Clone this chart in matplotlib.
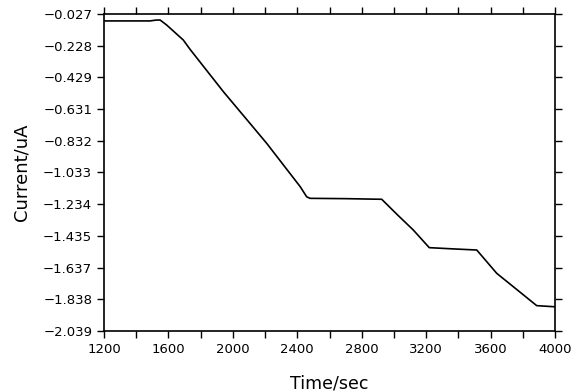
import matplotlib.pyplot as plt
from matplotlib.ticker import MultipleLocator

# time (sec) and current (uA)
time_s = [1200, 1486, 1520, 1548, 1589, 1692, 1734, 1941, 2106, 2210, 2418,
          2458, 2479, 2700, 2924, 3020, 3120, 3219, 3370, 3514, 3638, 3741,
          3886, 3995]
current_ua = [-0.071, -0.071, -0.066, -0.065, -0.097, -0.192, -0.251, -0.520,
              -0.721, -0.848, -1.123, -1.187, -1.197, -1.199, -1.203, -1.300,
              -1.398, -1.510, -1.518, -1.525, -1.673, -1.758, -1.878, -1.885]

ytick_vals = [-0.027, -0.228, -0.429, -0.631, -0.832, -1.033, -1.234,
              -1.435, -1.637, -1.838, -2.039]
ytick_labels = ["\u22120.027", "\u22120.228", "\u22120.429", "\u22120.631",
                "\u22120.832", "\u22121.033", "\u22121.234", "\u22121.435",
                "\u22121.637", "\u22121.838", "\u22122.039"]

fig = plt.figure(figsize=(5.82, 3.92), dpi=100)
ax = fig.add_axes([0.1787, 0.1556, 0.775, 0.8087])

ax.plot(time_s, current_ua, color="black", lw=1.2)

ax.set_xlim(1200, 4000)
ax.set_ylim(-2.039, -0.027)
ax.xaxis.set_major_locator(MultipleLocator(400))
ax.xaxis.set_minor_locator(MultipleLocator(200))
ax.set_yticks(ytick_vals)
ax.set_yticklabels(ytick_labels)

ax.tick_params(which="both", direction="out", length=5, width=1,
               top=True, right=True, labelsize=9.5, color="black")
for s in ax.spines.values():
    s.set_linewidth(1.2)

ax.set_xlabel("Time/sec", fontsize=12.5)
ax.set_ylabel("Current/uA", fontsize=13)
ax.xaxis.set_label_coords(0.5, -0.136)
ax.yaxis.set_label_coords(-0.164, 0.5)

fig.savefig("out.png", dpi=100)
